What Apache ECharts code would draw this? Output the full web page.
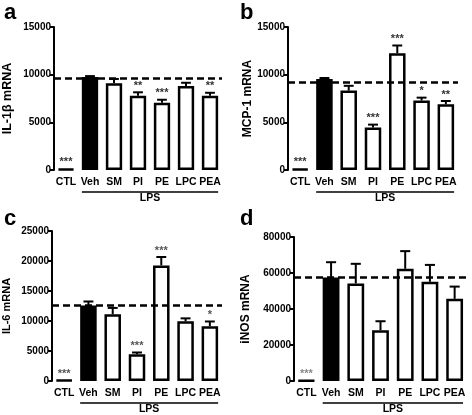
<!DOCTYPE html>
<html><head><meta charset="utf-8">
<script src="https://cdn.jsdelivr.net/npm/echarts@6/dist/echarts.min.js"></script>
<style>html,body{margin:0;padding:0;background:#fff}#c{width:472px;height:415px}</style>
</head><body><div id="c"></div>
<script>
const categories = ['CTL','Veh','SM','PI','PE','LPC','PEA'];

const aMean = [120, 9750, 9100, 7800, 7050, 8800, 7780];
const aErr  = [0, 100, 450, 350, 320, 350, 320];
const aSig  = ['***','','','**','***','','**'];
const aRef  = 9600;
const aTicks = [0, 15000, 5000];

const bMean = [120, 9550, 8330, 4460, 12240, 7290, 6900];
const bErr  = [0, 100, 500, 300, 820, 300, 340];
const bSig  = ['***','','','***','***','*','**'];
const bRef  = 9250;
const bTicks = [0, 15000, 5000];

const cMean = [150, 12600, 11130, 4450, 19270, 9960, 9140];
const cErr  = [0, 650, 1050, 300, 1400, 480, 780];
const cSig  = ['***','','','***','***','','*'];
const cRef  = 12600;
const cTicks = [0, 25000, 5000];

const dMean = [300, 57500, 54200, 28200, 62350, 55100, 45650];
const dErr  = [0, 8500, 10900, 5000, 9800, 9400, 6800];
const dSig  = ['***','','','','','',''];
const dRef  = 57400;
const dTicks = [0, 80000, 20000];

const panels = [
  {letter:'a', name:'IL-1\u03b2 mRNA', mean:aMean, err:aErr, sig:aSig, ref:aRef, ticks:aTicks,
   grid:{left:52, top:27, width:170, height:143}, nameGap:40, nameSize:12.5, lx:4, ly:2, sigColor:'#333'},
  {letter:'b', name:'MCP-1 mRNA', mean:bMean, err:bErr, sig:bSig, ref:bRef, ticks:bTicks,
   grid:{left:288, top:27, width:170, height:143}, nameGap:32, nameSize:12, lx:240, ly:2, sigColor:'#333'},
  {letter:'c', name:'IL-6 mRNA', mean:cMean, err:cErr, sig:cSig, ref:cRef, ticks:cTicks,
   grid:{left:52, top:231, width:170, height:150}, nameGap:40, nameSize:11, lx:4, ly:208, sigColor:'#555'},
  {letter:'d', name:'iNOS mRNA', mean:dMean, err:dErr, sig:dSig, ref:dRef, ticks:dTicks,
   grid:{left:294, top:237, width:173, height:144}, nameGap:42, nameSize:12, lx:240, ly:208, sigColor:'#888'}
];

const FONT = "'Liberation Sans', Arial, sans-serif";
const BW = 0.68;
const grids = [], xAxes = [], yAxes = [], series = [], graphics = [];

panels.forEach((p, k) => {
  grids.push(Object.assign({containLabel:false}, p.grid));
  xAxes.push({type:'category', gridIndex:k, data:categories,
    axisLine:{show:false}, axisTick:{show:false},
    axisLabel:{color:'#000', fontWeight:'bold', fontSize:10.5, fontFamily:FONT, margin:7, interval:0}});
  yAxes.push({type:'value', gridIndex:k, min:p.ticks[0], max:p.ticks[1], interval:p.ticks[2],
    name:p.name, nameLocation:'middle', nameGap:p.nameGap,
    nameTextStyle:{color:'#000', fontWeight:'bold', fontSize:p.nameSize, fontFamily:FONT},
    axisLine:{show:true, lineStyle:{color:'#000', width:2}},
    axisTick:{show:true, length:4, lineStyle:{color:'#000', width:2}},
    axisLabel:{color:'#000', fontWeight:'bold', fontSize:10, fontFamily:FONT, margin:3,
      formatter:v => String(v)},
    splitLine:{show:false}});
  series.push({type:'bar', xAxisIndex:k, yAxisIndex:k, barWidth:(BW*100)+'%',
    data:p.mean.map((v,i)=>({value:v, itemStyle:{color: i===1 ? '#000' : '#fff'}})),
    itemStyle:{borderColor:'#000', borderWidth:2.5},
    markLine:{silent:true, symbol:'none', label:{show:false},
      lineStyle:{color:'#000', width:2.5, type:[7,4]}, data:[{yAxis:p.ref}]},
    z:2});
  series.push({type:'custom', xAxisIndex:k, yAxisIndex:k, z:3, clip:false,
    data:p.mean.map((v,i)=>[i, v, p.err[i]]),
    encode:{x:0, y:1},
    renderItem:(params, api) => {
      const i = api.value(0), m = api.value(1), e = api.value(2);
      const base = api.coord([i, m]), top = api.coord([i, m+e]);
      const bw = api.size([1,0])[0]*BW, cap = bw*0.6;
      const ch = [];
      if (e > 0) {
        ch.push({type:'line', shape:{x1:base[0], y1:base[1], x2:top[0], y2:top[1]}, style:{stroke:'#000', lineWidth:2}});
        ch.push({type:'line', shape:{x1:top[0]-cap/2, y1:top[1], x2:top[0]+cap/2, y2:top[1]}, style:{stroke:'#000', lineWidth:2}});
      }
      const s = p.sig[i];
      if (s) ch.push({type:'text', style:{text:s, x:top[0], y:top[1]-1, align:'center', verticalAlign:'bottom',
        fill:p.sigColor, font:'bold 11px ' + FONT}});
      return {type:'group', children:ch};
    }});
  // LPS bracket, spanning Veh..PEA
  series.push({type:'custom', xAxisIndex:k, yAxisIndex:k, z:3, clip:false, silent:true,
    data:[[1, 6]], encode:{x:[0,1]},
    renderItem:(params, api) => {
      const a = api.coord([api.value(0), 0]), b = api.coord([api.value(1), 0]);
      const bw = api.size([1,0])[0]*BW;
      const y = a[1] + 22;
      return {type:'group', children:[
        {type:'line', shape:{x1:a[0]-bw/2, y1:y, x2:b[0]+bw/2, y2:y}, style:{stroke:'#000', lineWidth:1.3}},
        {type:'text', style:{text:'LPS', x:(a[0]+b[0])/2, y:y+1, align:'center', verticalAlign:'top',
          fill:'#000', font:'bold 10.5px ' + FONT}}
      ]};
    }});
  graphics.push({type:'text', left:p.lx, top:p.ly,
    style:{text:p.letter, fill:'#000', font:'bold 22px ' + FONT}});
});

const chart = echarts.init(document.getElementById('c'), null, {renderer:'canvas'});
chart.setOption({animation:false, backgroundColor:'#fff', textStyle:{fontFamily:FONT},
  grid:grids, xAxis:xAxes, yAxis:yAxes, series:series, graphic:graphics});
</script></body></html>
